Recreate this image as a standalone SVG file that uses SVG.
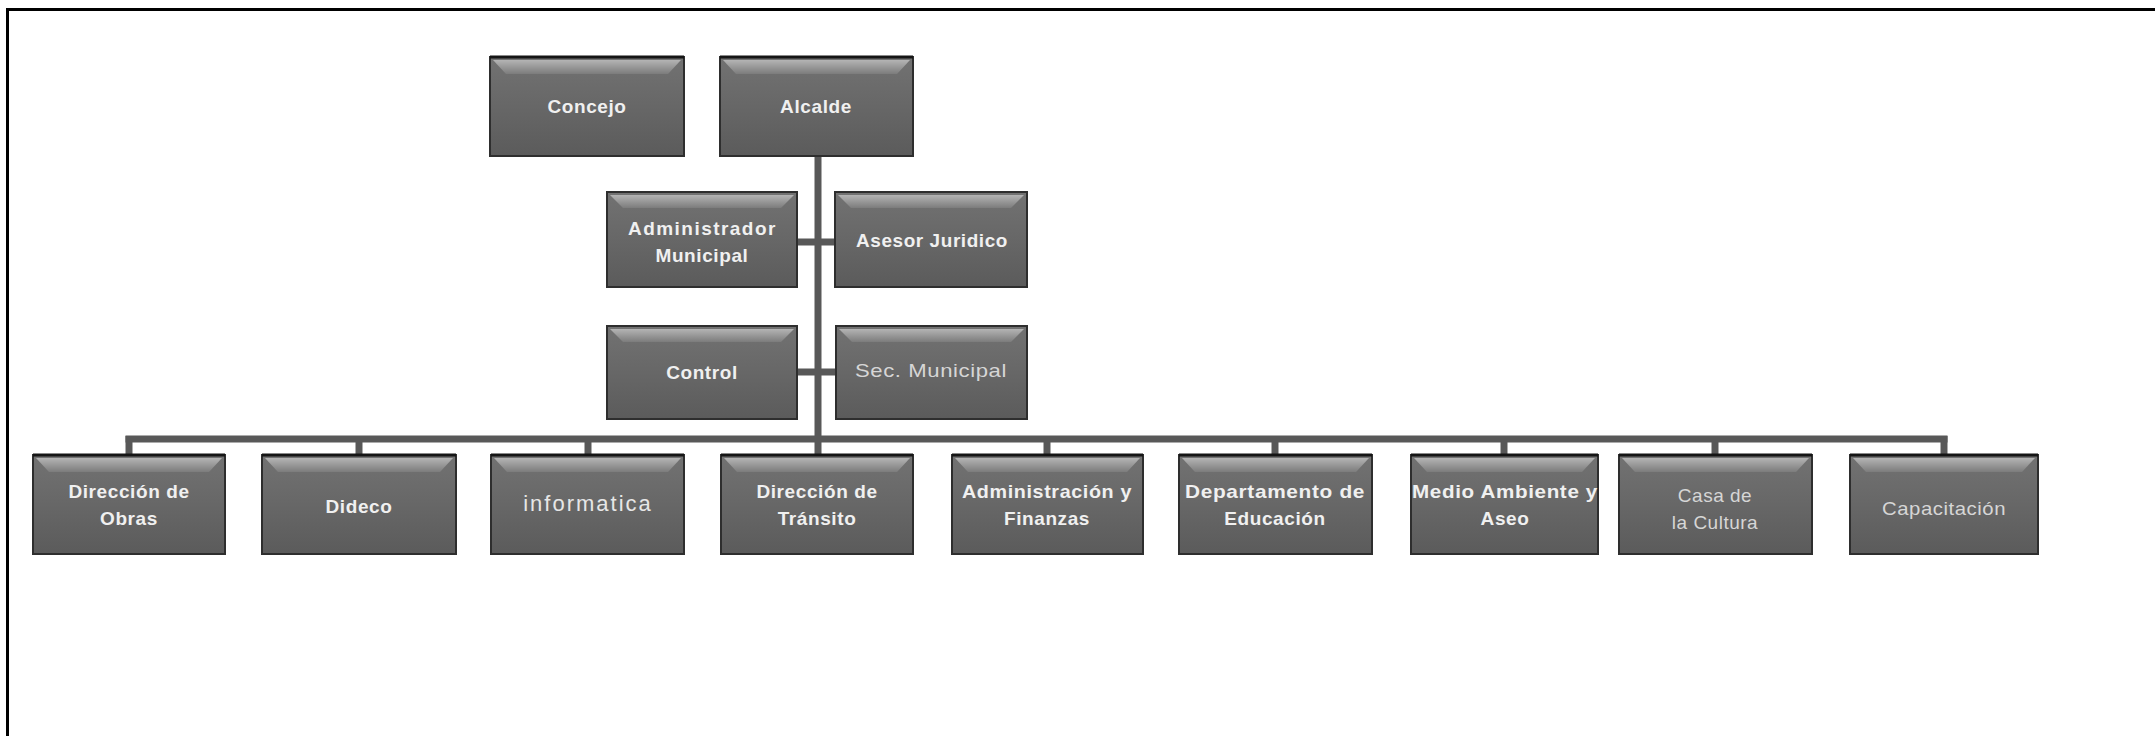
<svg xmlns="http://www.w3.org/2000/svg" width="2155" height="736" viewBox="0 0 2155 736">
  <defs>
    <linearGradient id="boxFill" x1="0" y1="0" x2="0" y2="1">
      <stop offset="0" stop-color="#727272"/>
      <stop offset="0.5" stop-color="#676767"/>
      <stop offset="1" stop-color="#5b5b5b"/>
    </linearGradient>
    <linearGradient id="hiFill" x1="0" y1="0" x2="0" y2="1">
      <stop offset="0" stop-color="#b4b4b4"/>
      <stop offset="1" stop-color="#7c7c7c"/>
    </linearGradient>
    <style>
      .box { fill: url(#boxFill); stroke: #2e2e2e; stroke-width: 2; }
      .top { stroke: #151515; stroke-width: 3; }
      .hi { fill: url(#hiFill); }
      .lb { font-family: "Liberation Sans", Arial, sans-serif; font-weight: bold; font-size: 19px; fill: #f0f0f0; text-anchor: middle; letter-spacing: 0.6px; }
      .lr { font-family: "Liberation Sans", Arial, sans-serif; font-weight: normal; font-size: 19px; fill: #d6d6d6; text-anchor: middle; letter-spacing: 0.5px; }
      .conn { stroke: #585858; stroke-width: 7; fill: none; }
      .frame { stroke: #000; stroke-width: 3; fill: none; }
    </style>
  </defs>
  <rect x="0" y="0" width="2155" height="736" fill="#fff"/>
  <path class="frame" d="M7.5,736 V9.5 H2155"/>

  <g id="connectors">
    <line class="conn" x1="818" y1="156" x2="818" y2="455"/>
    <line class="conn" x1="797" y1="242" x2="835" y2="242"/>
    <line class="conn" x1="797" y1="372" x2="836" y2="372"/>
    <line class="conn" x1="125.5" y1="439" x2="1947.5" y2="439"/>
    <line class="conn" x1="129" y1="436" x2="129" y2="455"/>
    <line class="conn" x1="359" y1="436" x2="359" y2="455"/>
    <line class="conn" x1="588" y1="436" x2="588" y2="455"/>
    <line class="conn" x1="1047" y1="436" x2="1047" y2="455"/>
    <line class="conn" x1="1275" y1="436" x2="1275" y2="455"/>
    <line class="conn" x1="1504" y1="436" x2="1504" y2="455"/>
    <line class="conn" x1="1715" y1="436" x2="1715" y2="455"/>
    <line class="conn" x1="1944" y1="436" x2="1944" y2="455"/>
  </g>

  <g id="concejo" transform="translate(490,57)">
    <rect class="box" width="194" height="99"/>
    <line class="top" x1="0" y1="0" x2="194" y2="0"/>
    <path class="hi" d="M3,3 H191 L178,17 H16 Z"/>
    <text class="lb" x="97" y="56">Concejo</text>
  </g>
  <g id="alcalde" transform="translate(720,57)">
    <rect class="box" width="193" height="99"/>
    <line class="top" x1="0" y1="0" x2="193" y2="0"/>
    <path class="hi" d="M3,3 H190 L177,17 H16 Z"/>
    <text class="lb" x="96" y="56">Alcalde</text>
  </g>
  <g id="administrador-municipal" transform="translate(607,192)">
    <rect class="box" width="190" height="95"/>
    <path class="hi" d="M3,3 H187 L174,16 H16 Z"/>
    <text class="lb" x="95" y="43" textLength="148" lengthAdjust="spacing">Administrador</text>
    <text class="lb" x="95" y="70">Municipal</text>
  </g>
  <g id="asesor-juridico" transform="translate(835,192)">
    <rect class="box" width="192" height="95"/>
    <path class="hi" d="M3,3 H189 L176,16 H16 Z"/>
    <text class="lb" x="97" y="55" textLength="152" lengthAdjust="spacingAndGlyphs">Asesor Juridico</text>
  </g>
  <g id="control" transform="translate(607,326)">
    <rect class="box" width="190" height="93"/>
    <path class="hi" d="M3,3 H187 L174,16 H16 Z"/>
    <text class="lb" x="95" y="53">Control</text>
  </g>
  <g id="sec-municipal" transform="translate(836,326)">
    <rect class="box" width="191" height="93"/>
    <path class="hi" d="M3,3 H188 L175,16 H16 Z"/>
    <text class="lr" x="95" y="51" textLength="152" lengthAdjust="spacingAndGlyphs">Sec. Municipal</text>
  </g>

  <g id="direccion-obras" transform="translate(33,455)">
    <rect class="box" width="192" height="99"/>
    <line class="top" x1="0" y1="0" x2="192" y2="0"/>
    <path class="hi" d="M3,3 H189 L176,17 H16 Z"/>
    <text class="lb" x="96" y="43">Dirección de</text>
    <text class="lb" x="96" y="70">Obras</text>
  </g>
  <g id="dideco" transform="translate(262,455)">
    <rect class="box" width="194" height="99"/>
    <line class="top" x1="0" y1="0" x2="194" y2="0"/>
    <path class="hi" d="M3,3 H191 L178,17 H16 Z"/>
    <text class="lb" x="97" y="58">Dideco</text>
  </g>
  <g id="informatica" transform="translate(491,455)">
    <rect class="box" width="193" height="99"/>
    <line class="top" x1="0" y1="0" x2="193" y2="0"/>
    <path class="hi" d="M3,3 H190 L177,17 H16 Z"/>
    <text class="lr" x="97" y="56" style="font-size:22px;letter-spacing:2px;fill:#e6e6e6">informatica</text>
  </g>
  <g id="direccion-transito" transform="translate(721,455)">
    <rect class="box" width="192" height="99"/>
    <line class="top" x1="0" y1="0" x2="192" y2="0"/>
    <path class="hi" d="M3,3 H189 L176,17 H16 Z"/>
    <text class="lb" x="96" y="43">Dirección de</text>
    <text class="lb" x="96" y="70">Tránsito</text>
  </g>
  <g id="administracion-finanzas" transform="translate(952,455)">
    <rect class="box" width="191" height="99"/>
    <line class="top" x1="0" y1="0" x2="191" y2="0"/>
    <path class="hi" d="M3,3 H188 L175,17 H16 Z"/>
    <text class="lb" x="95" y="43" textLength="170" lengthAdjust="spacingAndGlyphs">Administración y</text>
    <text class="lb" x="95" y="70">Finanzas</text>
  </g>
  <g id="departamento-educacion" transform="translate(1179,455)">
    <rect class="box" width="193" height="99"/>
    <line class="top" x1="0" y1="0" x2="193" y2="0"/>
    <path class="hi" d="M3,3 H190 L177,17 H16 Z"/>
    <text class="lb" x="96" y="43" textLength="180" lengthAdjust="spacingAndGlyphs">Departamento de</text>
    <text class="lb" x="96" y="70">Educación</text>
  </g>
  <g id="medio-ambiente" transform="translate(1411,455)">
    <rect class="box" width="187" height="99"/>
    <line class="top" x1="0" y1="0" x2="187" y2="0"/>
    <path class="hi" d="M3,3 H184 L171,17 H16 Z"/>
    <text class="lb" x="94" y="43" textLength="186" lengthAdjust="spacingAndGlyphs">Medio Ambiente y</text>
    <text class="lb" x="94" y="70">Aseo</text>
  </g>
  <g id="casa-cultura" transform="translate(1619,455)">
    <rect class="box" width="193" height="99"/>
    <line class="top" x1="0" y1="0" x2="193" y2="0"/>
    <path class="hi" d="M3,3 H190 L177,17 H16 Z"/>
    <text class="lr" x="96" y="47">Casa de</text>
    <text class="lr" x="96" y="74">la Cultura</text>
  </g>
  <g id="capacitacion" transform="translate(1850,455)">
    <rect class="box" width="188" height="99"/>
    <line class="top" x1="0" y1="0" x2="188" y2="0"/>
    <path class="hi" d="M3,3 H185 L172,17 H16 Z"/>
    <text class="lr" x="94" y="60" textLength="124" lengthAdjust="spacingAndGlyphs">Capacitación</text>
  </g>
</svg>
